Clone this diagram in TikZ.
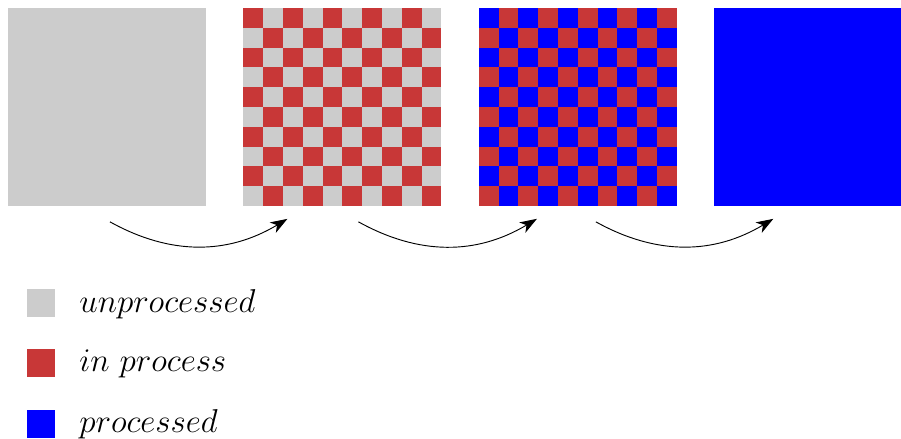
\documentclass[tikz,border=0pt]{standalone}
\usepackage{xcolor}
\usepackage{tikz}
\usetikzlibrary{arrows.meta, positioning, calc}
\definecolor{rawgray}{RGB}{204, 204, 204}
\definecolor{busyred}{RGB}{200, 55, 55}
\definecolor{doneblue}{RGB}{0, 0, 255}

\begin{document}
\begin{tikzpicture}[x=0.524cm, y=0.524cm,
    panel/.style={minimum size=5.24cm, inner sep=0pt, outer sep=0pt, anchor=south west},
    flow/.style={-{Stealth[length=4.5mm, width=3.2mm, inset=1.3mm]}, line width=0.7pt, bend right=30},
    swatch/.style={minimum size=0.74cm, inner sep=0pt, outer sep=0pt},
    legend/.style={anchor=base west, inner sep=0pt, font=\Huge}]
    \useasboundingbox (-0.404,-11.72) rectangle (45.1,10.404);
    % the four stages
    \node[panel, fill=rawgray] (p1) at (0,0) {};
    \node[panel, fill=busyred] (p2) at (11.89,0) {};
    \node[panel, fill=doneblue] (p3) at (23.78,0) {};
    \node[panel, fill=doneblue] (p4) at (35.67,0) {};
    % checker cells
    \foreach \i in {0,...,9} {
      \foreach \j in {0,...,9} {
        \pgfmathtruncatemacro\k{\i+\j}
        \ifodd\k\else
          \fill[rawgray] ($(p2.south west)+(\i,\j)$) rectangle +(1,1);
          \fill[busyred] ($(p3.south west)+(\i,\j)$) rectangle +(1,1);
        \fi
      }
    }
    % arrows between stages
    \coordinate (from1) at ($(p1.south)+(0.15,-0.8)$);
    \coordinate (to1) at ($(p2.south west)+(2.22,-0.65)$);
    \coordinate (from2) at ($(p2.south)+(0.81,-0.8)$);
    \coordinate (to2) at ($(p3.south west)+(2.93,-0.65)$);
    \coordinate (from3) at ($(p3.south)+(0.91,-0.8)$);
    \coordinate (to3) at ($(p4.south west)+(2.98,-0.65)$);
    \foreach \n in {1,2,3}
      \draw[flow] (from\n) to (to\n);
    % legend
    \node[swatch, fill=rawgray] (k1) at (1.665,-4.90) {};
    \node[swatch, fill=busyred] (k2) at (1.665,-7.93) {};
    \node[swatch, fill=doneblue] (k3) at (1.665,-11.01) {};
    \node[legend] (t1) at (3.59,-5.40) {$unprocessed$};
    \node[legend] (t2) at (3.59,-8.38) {$in\ process$};
    \node[legend] (t3) at (3.59,-11.46) {$processed$};
\end{tikzpicture}
\end{document}
